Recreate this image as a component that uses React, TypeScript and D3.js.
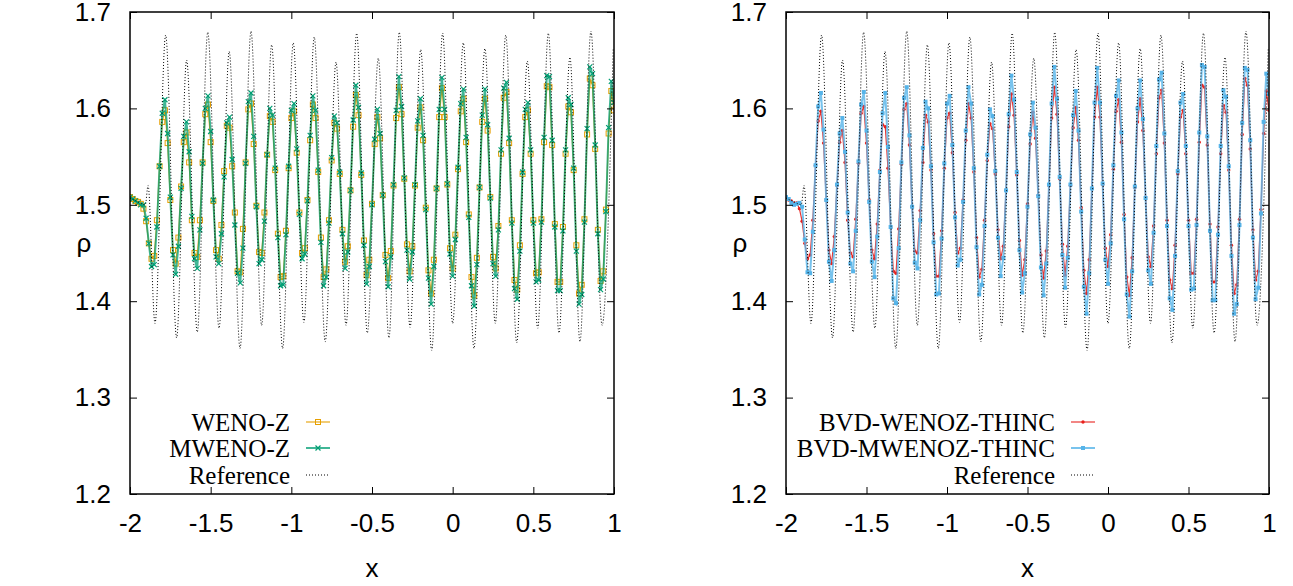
import { useEffect, useRef } from 'react';
import * as d3 from 'd3';

// Density profiles in the post-shock region. The numerical solutions live on a
// uniform grid from x = -2 with spacing 1/60 (181 points up to x = 1).
const GRID_START = -2;
const GRID_STEP = 1 / 60;

const WENO_Z = [
  1.508, 1.506, 1.504, 1.503, 1.501, 1.496, 1.483, 1.460, 1.444, 1.447,
  1.484, 1.540, 1.586, 1.598, 1.564, 1.505, 1.453, 1.439, 1.466, 1.519,
  1.565, 1.575, 1.544, 1.484, 1.450, 1.446, 1.484, 1.544, 1.594, 1.604,
  1.565, 1.504, 1.453, 1.444, 1.479, 1.535, 1.582, 1.580, 1.540, 1.492,
  1.431, 1.430, 1.475, 1.544, 1.599, 1.605, 1.563, 1.499, 1.451, 1.450,
  1.492, 1.552, 1.592, 1.586, 1.536, 1.470, 1.425, 1.426, 1.473, 1.538,
  1.590, 1.597, 1.554, 1.492, 1.450, 1.455, 1.505, 1.567, 1.604, 1.590,
  1.534, 1.466, 1.425, 1.433, 1.484, 1.546, 1.585, 1.579, 1.532, 1.474,
  1.441, 1.457, 1.515, 1.581, 1.614, 1.593, 1.531, 1.463, 1.427, 1.443,
  1.501, 1.563, 1.591, 1.569, 1.510, 1.448, 1.424, 1.452, 1.520, 1.590,
  1.622, 1.594, 1.527, 1.459, 1.431, 1.457, 1.520, 1.580, 1.601, 1.567,
  1.497, 1.432, 1.408, 1.443, 1.517, 1.591, 1.621, 1.591, 1.521, 1.455,
  1.434, 1.469, 1.537, 1.597, 1.610, 1.565, 1.490, 1.425, 1.406, 1.445,
  1.518, 1.586, 1.610, 1.577, 1.508, 1.446, 1.434, 1.478, 1.553, 1.611,
  1.617, 1.564, 1.484, 1.422, 1.412, 1.458, 1.532, 1.591, 1.598, 1.553,
  1.484, 1.429, 1.430, 1.485, 1.565, 1.623, 1.622, 1.562, 1.480, 1.420,
  1.420, 1.477, 1.553, 1.602, 1.596, 1.536, 1.458, 1.408, 1.417, 1.485,
  1.573, 1.631, 1.624, 1.558, 1.474, 1.421, 1.431, 1.495, 1.574, 1.618,
  1.598,
];

const MWENO_Z = [
  1.508, 1.506, 1.504, 1.502, 1.500, 1.500, 1.486, 1.460, 1.436, 1.438,
  1.477, 1.540, 1.595, 1.609, 1.574, 1.508, 1.448, 1.428, 1.457, 1.517,
  1.571, 1.586, 1.555, 1.488, 1.444, 1.434, 1.474, 1.543, 1.600, 1.613,
  1.576, 1.505, 1.446, 1.439, 1.470, 1.529, 1.585, 1.591, 1.547, 1.479,
  1.429, 1.419, 1.455, 1.543, 1.607, 1.616, 1.571, 1.498, 1.439, 1.443,
  1.483, 1.552, 1.600, 1.593, 1.538, 1.466, 1.416, 1.417, 1.469, 1.540,
  1.598, 1.605, 1.558, 1.490, 1.444, 1.449, 1.504, 1.572, 1.613, 1.598,
  1.536, 1.461, 1.416, 1.425, 1.481, 1.549, 1.592, 1.585, 1.534, 1.470,
  1.434, 1.451, 1.515, 1.588, 1.624, 1.601, 1.533, 1.458, 1.418, 1.436,
  1.500, 1.568, 1.599, 1.574, 1.510, 1.441, 1.415, 1.446, 1.521, 1.598,
  1.633, 1.602, 1.528, 1.453, 1.423, 1.451, 1.521, 1.587, 1.610, 1.572,
  1.495, 1.424, 1.397, 1.436, 1.517, 1.599, 1.632, 1.599, 1.522, 1.449,
  1.426, 1.464, 1.539, 1.605, 1.620, 1.570, 1.487, 1.416, 1.395, 1.438,
  1.518, 1.593, 1.620, 1.583, 1.507, 1.439, 1.426, 1.474, 1.557, 1.621,
  1.627, 1.569, 1.481, 1.413, 1.402, 1.452, 1.534, 1.599, 1.606, 1.557,
  1.481, 1.420, 1.422, 1.482, 1.570, 1.634, 1.633, 1.567, 1.477, 1.411,
  1.411, 1.473, 1.557, 1.611, 1.604, 1.538, 1.452, 1.397, 1.407, 1.482,
  1.579, 1.643, 1.636, 1.562, 1.470, 1.412, 1.423, 1.493, 1.580, 1.628,
  1.606,
];

const BVD_WENOZ_THINC = [
  1.508, 1.505, 1.504, 1.502, 1.502, 1.496, 1.483, 1.460, 1.444, 1.448,
  1.484, 1.541, 1.587, 1.597, 1.564, 1.505, 1.453, 1.439, 1.467, 1.520,
  1.565, 1.577, 1.544, 1.484, 1.450, 1.446, 1.485, 1.543, 1.595, 1.602,
  1.564, 1.505, 1.453, 1.444, 1.480, 1.536, 1.583, 1.581, 1.538, 1.477,
  1.431, 1.429, 1.475, 1.542, 1.599, 1.605, 1.562, 1.498, 1.452, 1.450,
  1.494, 1.544, 1.593, 1.586, 1.536, 1.470, 1.426, 1.426, 1.473, 1.538,
  1.590, 1.595, 1.554, 1.492, 1.450, 1.455, 1.505, 1.567, 1.605, 1.590,
  1.534, 1.466, 1.425, 1.433, 1.484, 1.546, 1.584, 1.579, 1.532, 1.474,
  1.444, 1.457, 1.515, 1.581, 1.615, 1.593, 1.531, 1.463, 1.427, 1.443,
  1.501, 1.563, 1.596, 1.569, 1.510, 1.448, 1.424, 1.452, 1.520, 1.590,
  1.622, 1.594, 1.527, 1.459, 1.427, 1.457, 1.520, 1.580, 1.601, 1.567,
  1.497, 1.432, 1.408, 1.443, 1.517, 1.591, 1.622, 1.591, 1.521, 1.455,
  1.436, 1.469, 1.537, 1.597, 1.609, 1.565, 1.490, 1.425, 1.406, 1.445,
  1.518, 1.586, 1.610, 1.577, 1.508, 1.446, 1.436, 1.478, 1.553, 1.611,
  1.619, 1.564, 1.484, 1.422, 1.413, 1.458, 1.532, 1.591, 1.598, 1.553,
  1.484, 1.429, 1.429, 1.485, 1.565, 1.624, 1.622, 1.562, 1.480, 1.420,
  1.420, 1.477, 1.553, 1.603, 1.596, 1.536, 1.458, 1.408, 1.417, 1.485,
  1.573, 1.631, 1.624, 1.558, 1.474, 1.422, 1.431, 1.495, 1.574, 1.618,
  1.598,
];

const BVD_MWENOZ_THINC = [
  1.508, 1.506, 1.502, 1.500, 1.501, 1.502, 1.498, 1.464, 1.430, 1.429,
  1.472, 1.541, 1.602, 1.616, 1.578, 1.505, 1.441, 1.421, 1.453, 1.521,
  1.574, 1.590, 1.555, 1.492, 1.439, 1.431, 1.473, 1.545, 1.604, 1.617,
  1.577, 1.503, 1.441, 1.425, 1.467, 1.534, 1.595, 1.616, 1.560, 1.477,
  1.403, 1.398, 1.455, 1.544, 1.611, 1.622, 1.572, 1.498, 1.440, 1.434,
  1.484, 1.559, 1.607, 1.600, 1.540, 1.461, 1.407, 1.408, 1.465, 1.543,
  1.605, 1.613, 1.562, 1.487, 1.437, 1.443, 1.503, 1.577, 1.622, 1.605,
  1.538, 1.456, 1.407, 1.417, 1.478, 1.552, 1.599, 1.592, 1.535, 1.466,
  1.426, 1.445, 1.515, 1.594, 1.634, 1.609, 1.534, 1.453, 1.409, 1.429,
  1.498, 1.573, 1.606, 1.580, 1.509, 1.435, 1.406, 1.439, 1.521, 1.605,
  1.643, 1.610, 1.529, 1.448, 1.414, 1.445, 1.521, 1.593, 1.618, 1.577,
  1.493, 1.415, 1.387, 1.429, 1.517, 1.606, 1.642, 1.606, 1.522, 1.443,
  1.418, 1.460, 1.541, 1.613, 1.629, 1.575, 1.485, 1.407, 1.384, 1.431,
  1.519, 1.600, 1.629, 1.589, 1.507, 1.432, 1.418, 1.471, 1.561, 1.630,
  1.637, 1.574, 1.478, 1.403, 1.391, 1.447, 1.535, 1.606, 1.615, 1.561,
  1.478, 1.412, 1.413, 1.479, 1.575, 1.645, 1.643, 1.571, 1.473, 1.401,
  1.401, 1.469, 1.561, 1.619, 1.612, 1.540, 1.447, 1.387, 1.397, 1.479,
  1.585, 1.642, 1.640, 1.567, 1.466, 1.402, 1.414, 1.491, 1.586, 1.636,
  1.615,
];

// fine-grid reference: turning points
const REF_X = [
  -2.0, -1.95, -1.905, -1.888, -1.845, -1.779, -1.711, -1.649, -1.583, -1.518,
  -1.448, -1.385, -1.318, -1.25, -1.184, -1.122, -1.054, -0.988, -0.922, -0.858,
  -0.79, -0.723, -0.661, -0.595, -0.529, -0.461, -0.395, -0.331, -0.264, -0.198,
  -0.13, -0.062, 0.0, 0.066, 0.132, 0.2, 0.264, 0.329, 0.397, 0.463,
  0.527, 0.593, 0.659, 0.727, 0.789, 0.857, 0.926, 0.995,
];
const REF_Y = [
  1.507, 1.503, 1.500, 1.520, 1.377, 1.676, 1.362, 1.650, 1.368, 1.679,
  1.372, 1.659, 1.351, 1.680, 1.375, 1.666, 1.351, 1.668, 1.378, 1.674,
  1.358, 1.648, 1.375, 1.678, 1.367, 1.652, 1.362, 1.679, 1.373, 1.661,
  1.349, 1.678, 1.377, 1.668, 1.351, 1.662, 1.377, 1.676, 1.357, 1.649,
  1.372, 1.678, 1.367, 1.653, 1.358, 1.680, 1.375, 1.662,
];

const X_TICKS = [-2, -1.5, -1, -0.5, 0, 0.5, 1];
const Y_TICKS = [1.2, 1.3, 1.4, 1.5, 1.6, 1.7];

type Marker = 'openSquare' | 'cross' | 'dot' | 'square';
interface Series {
  label: string;
  values: number[];
  color: string;
  width: number;
  opacity: number;
  marker: Marker;
}

const PANELS: { left: number; right: number; legendX: number; series: Series[] }[] = [
  {
    left: 130,
    right: 614,
    legendX: 290,
    series: [
      { label: 'WENO-Z', values: WENO_Z, color: '#e69f00', width: 1.2, opacity: 0.9, marker: 'openSquare' },
      { label: 'MWENO-Z', values: MWENO_Z, color: '#009e73', width: 2, opacity: 0.75, marker: 'cross' },
    ],
  },
  {
    left: 786,
    right: 1269,
    legendX: 1055,
    series: [
      { label: 'BVD-WENOZ-THINC', values: BVD_WENOZ_THINC, color: '#e8201c', width: 1.2, opacity: 0.9, marker: 'dot' },
      { label: 'BVD-MWENOZ-THINC', values: BVD_MWENOZ_THINC, color: '#56b4e9', width: 2, opacity: 0.8, marker: 'square' },
    ],
  },
];

const SANS = "'Liberation Sans', Arial, Helvetica, sans-serif";
const SERIF = "'Liberation Serif', 'Times New Roman', serif";

function drawMarker(g: d3.Selection<SVGGElement, unknown, null, undefined>, kind: Marker, cx: number, cy: number, color: string) {
  if (kind === 'openSquare') {
    g.append('rect').attr('x', cx - 2.5).attr('y', cy - 2.5).attr('width', 5).attr('height', 5)
      .attr('fill', 'none').attr('stroke', color).attr('stroke-width', 1);
  } else if (kind === 'cross') {
    g.append('path').attr('d', `M${cx - 2.5},${cy - 2.5}L${cx + 2.5},${cy + 2.5}M${cx - 2.5},${cy + 2.5}L${cx + 2.5},${cy - 2.5}`)
      .attr('stroke', color).attr('stroke-width', 1.2);
  } else if (kind === 'dot') {
    g.append('circle').attr('cx', cx).attr('cy', cy).attr('r', 1.7).attr('fill', color);
  } else {
    g.append('rect').attr('x', cx - 2).attr('y', cy - 2).attr('width', 4).attr('height', 4).attr('fill', color);
  }
}

export default function App() {
  const svgRef = useRef<SVGSVGElement>(null);

  useEffect(() => {
    if (!svgRef.current) return;
    const svg = d3.select(svgRef.current);
    svg.selectAll('*').remove();

    const top = 12;
    const bottom = 494;
    const y = d3.scaleLinear().domain([1.2, 1.7]).range([bottom, top]);

    PANELS.forEach((p, pi) => {
      const x = d3.scaleLinear().domain([-2, 1]).range([p.left, p.right]);
      const clipId = `plot-clip-${pi}`;
      svg.append('clipPath').attr('id', clipId)
        .append('rect').attr('x', p.left).attr('y', top).attr('width', p.right - p.left).attr('height', bottom - top);

      const plot = svg.append('g').attr('clip-path', `url(#${clipId})`);

      // numerical solutions
      p.series.forEach(s => {
        const pts: [number, number][] = s.values.map((v, i) => [GRID_START + i * GRID_STEP, v]);
        const line = d3.line<[number, number]>().x(d => x(d[0])).y(d => y(d[1]));
        plot.append('path').datum(pts).attr('d', line)
          .attr('fill', 'none').attr('stroke', s.color).attr('stroke-width', s.width).attr('stroke-opacity', s.opacity);
        const mg = plot.append('g');
        pts.forEach(d => drawMarker(mg, s.marker, x(d[0]), y(d[1]), s.color));
      });

      // reference on top
      const refLine = d3.line<[number, number]>().curve(d3.curveMonotoneX).x(d => x(d[0])).y(d => y(d[1]));
      plot.append('path').datum(d3.zip(REF_X, REF_Y) as [number, number][]).attr('d', refLine)
        .attr('fill', 'none').attr('stroke', '#000').attr('stroke-width', 1).attr('stroke-dasharray', '1,2');

      // axes with inward ticks on all four sides
      const fmt = (d: d3.NumberValue) => String(d);
      const styleAxis = (g: d3.Selection<SVGGElement, unknown, null, undefined>) => {
        g.select('.domain').remove();
        g.selectAll('line').attr('stroke', '#000').attr('stroke-width', 1);
        g.selectAll('text').attr('fill', '#000').attr('font-size', 26).attr('font-family', SANS);
      };
      svg.append('g').attr('transform', `translate(0,${bottom})`)
        .call(d3.axisBottom(x).tickValues(X_TICKS).tickSize(-7).tickPadding(20).tickFormat(fmt)).call(styleAxis);
      svg.append('g').attr('transform', `translate(0,${top})`)
        .call(d3.axisTop(x).tickValues(X_TICKS).tickSize(-7).tickFormat(() => '')).call(styleAxis);
      svg.append('g').attr('transform', `translate(${p.left},0)`)
        .call(d3.axisLeft(y).tickValues(Y_TICKS).tickSize(-7).tickPadding(19).tickFormat(fmt)).call(styleAxis);
      svg.append('g').attr('transform', `translate(${p.right},0)`)
        .call(d3.axisRight(y).tickValues(Y_TICKS).tickSize(-7).tickFormat(() => '')).call(styleAxis);

      svg.append('rect').attr('x', p.left).attr('y', top).attr('width', p.right - p.left).attr('height', bottom - top)
        .attr('fill', 'none').attr('stroke', '#000').attr('stroke-width', 1.5);

      // axis titles
      svg.append('text').attr('x', (p.left + p.right) / 2).attr('y', 577).attr('text-anchor', 'middle')
        .attr('font-size', 26).attr('font-family', SANS).text('x');
      svg.append('text').attr('x', p.left - 46).attr('y', 243).attr('text-anchor', 'middle')
        .attr('dominant-baseline', 'central').attr('font-size', 26).attr('font-family', SANS).text('ρ');

      // key
      const rows = [...p.series.map(s => ({ label: s.label, s })), { label: 'Reference', s: null as Series | null }];
      const rowY = [422, 448, 475];
      rows.forEach((r, k) => {
        const ly = rowY[k];
        svg.append('text').attr('x', p.legendX).attr('y', ly).attr('text-anchor', 'end')
          .attr('dominant-baseline', 'central').attr('font-size', 25).attr('font-family', SERIF).text(r.label);
        const x1 = p.legendX + 16;
        const x2 = p.legendX + 40;
        if (r.s) {
          svg.append('line').attr('x1', x1).attr('x2', x2).attr('y1', ly).attr('y2', ly)
            .attr('stroke', r.s.color).attr('stroke-width', r.s.width).attr('stroke-opacity', r.s.opacity);
          drawMarker(svg.append('g'), r.s.marker, (x1 + x2) / 2, ly, r.s.color);
        } else {
          svg.append('line').attr('x1', x1).attr('x2', x2).attr('y1', ly).attr('y2', ly)
            .attr('stroke', '#000').attr('stroke-width', 1).attr('stroke-dasharray', '1,2');
        }
      });
    });
  }, []);

  return (
    <svg
      ref={svgRef}
      width={1293}
      height={586}
      style={{ position: 'absolute', left: 0, top: 0, background: '#fff' }}
    />
  );
}
